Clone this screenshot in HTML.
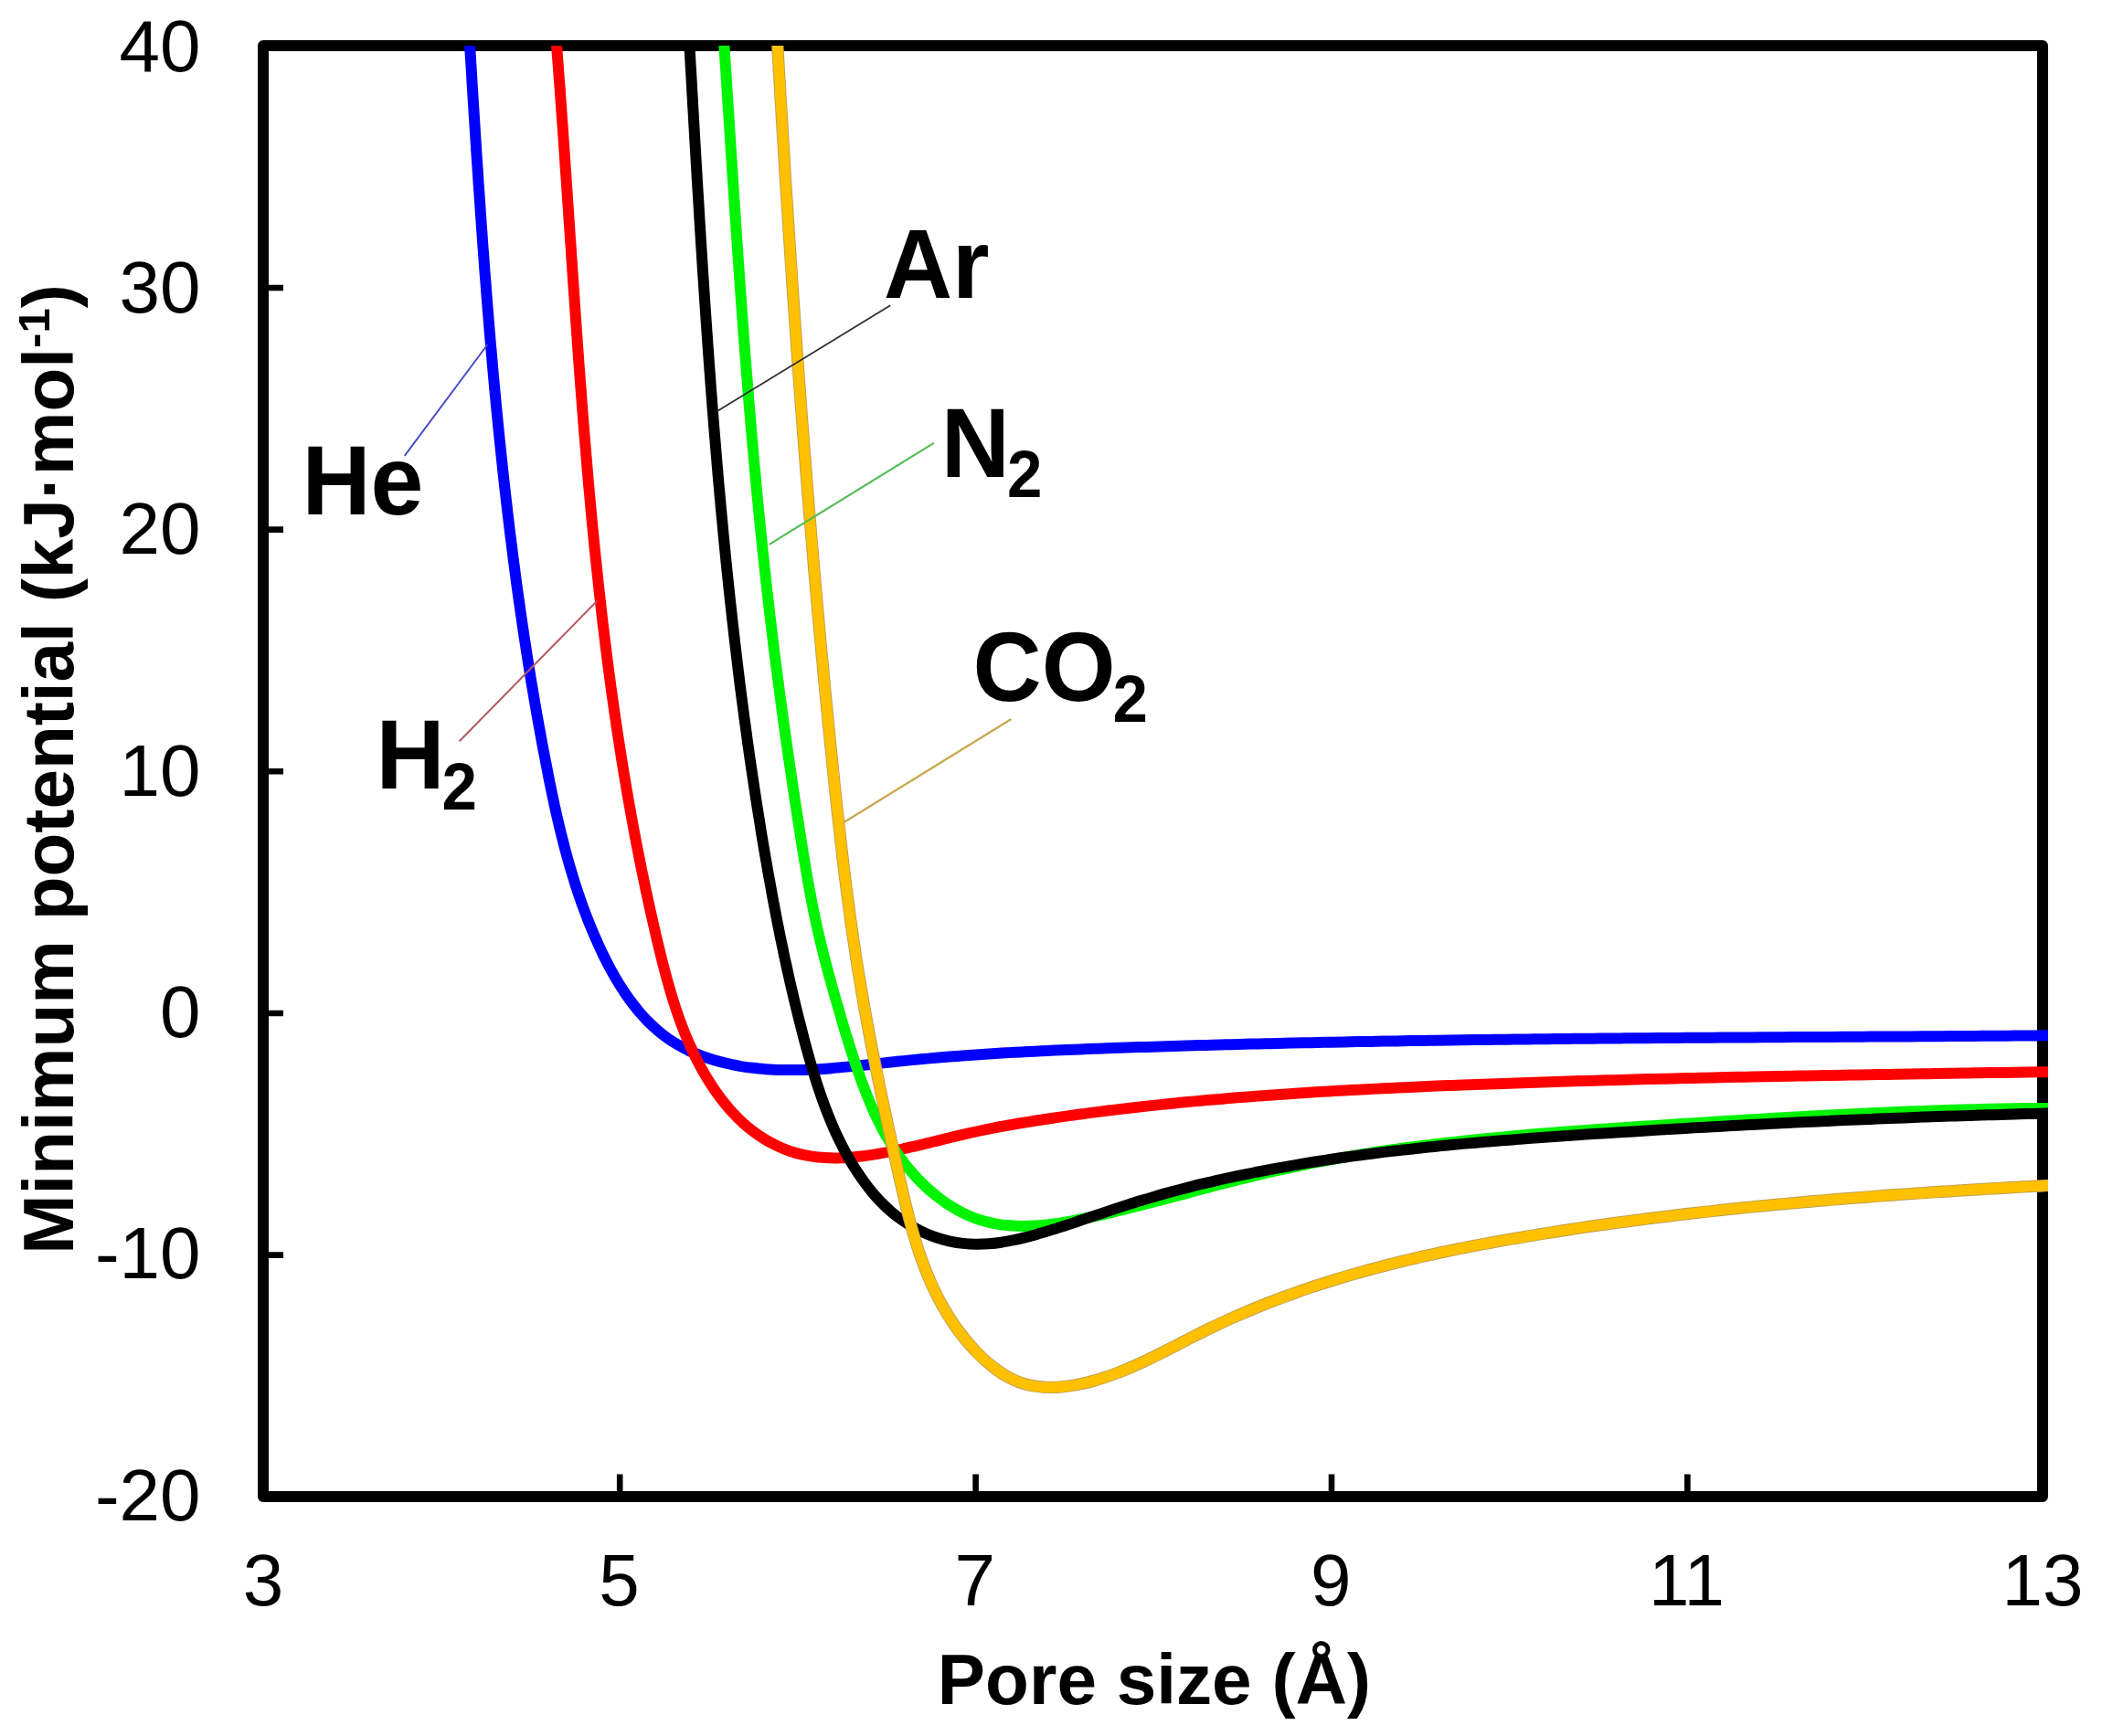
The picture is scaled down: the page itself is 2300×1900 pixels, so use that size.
<!DOCTYPE html>
<html lang="en">
<head>
<meta charset="utf-8">
<title>Minimum potential vs pore size</title>
<style>
html,body{margin:0;padding:0;background:#fff;}
body{width:2300px;height:1900px;overflow:hidden;}
svg{display:block;}
text{font-family:"Liberation Sans",sans-serif;fill:#000;}
.tick{font-size:80px;}
.title{font-size:78.3px;font-weight:bold;}
.lab{font-size:104px;font-weight:bold;}
.sub{font-size:69px;font-weight:bold;}
</style>
</head>
<body>
<svg width="2300" height="1900" viewBox="0 0 2300 1900">
<defs>
<clipPath id="plot"><rect x="268.0" y="50.0" width="1973.0" height="1608.0"/></clipPath>
<filter id="soft" x="-2%" y="-2%" width="104%" height="104%"><feGaussianBlur stdDeviation="0.75"/></filter>
</defs>
<rect x="0" y="0" width="2300" height="1900" fill="#fff"/>
<g filter="url(#soft)">
<rect x="288.0" y="50.0" width="1947.0" height="1588.0" fill="none" stroke="#000" stroke-width="12" stroke-linejoin="round"/>
<path d="M288.0 315.0H310.0 M288.0 579.6H310.0 M288.0 844.3H310.0 M288.0 1109.0H310.0 M288.0 1373.6H310.0 M678.2 1638.0V1613.5 M1067.6 1638.0V1613.5 M1457.0 1638.0V1613.5 M1846.4 1638.0V1613.5" stroke="#000" stroke-width="6.6" fill="none"/>
<g clip-path="url(#plot)" fill="none" stroke-linecap="butt" stroke-linejoin="round">
<path d="M511.8 11.4 C511.9 13.7 512.4 20.7 512.6 25.4 C512.9 30.1 513.2 34.8 513.5 39.5 C513.8 44.2 514.1 48.9 514.3 53.6 C514.6 58.3 514.9 63.1 515.2 67.8 C515.5 72.5 515.8 77.2 516.1 81.9 C516.3 86.7 516.6 91.4 516.9 96.1 C517.2 100.9 517.5 105.6 517.8 110.3 C518.1 115.1 518.4 119.8 518.7 124.6 C519.0 129.3 519.3 134.1 519.6 138.8 C519.9 143.6 520.2 148.3 520.5 153.1 C520.8 157.8 521.1 162.6 521.4 167.4 C521.7 172.1 522.0 176.9 522.4 181.7 C522.7 186.4 523.0 191.2 523.3 196.0 C523.6 200.8 523.9 205.5 524.3 210.3 C524.6 215.1 524.9 219.9 525.3 224.7 C525.6 229.5 525.9 234.2 526.3 239.0 C526.6 243.8 526.9 248.6 527.3 253.4 C527.6 258.2 528.0 263.0 528.3 267.8 C528.7 272.6 529.0 277.4 529.4 282.2 C529.7 287.0 530.1 291.8 530.4 296.6 C530.8 301.4 531.2 306.2 531.6 311.0 C531.9 315.8 532.3 320.6 532.7 325.4 C533.1 330.2 533.4 335.0 533.8 339.8 C534.2 344.6 534.6 349.4 535.0 354.2 C535.4 359.0 535.8 363.9 536.2 368.7 C536.6 373.5 537.0 378.3 537.5 383.1 C537.9 387.9 538.3 392.7 538.7 397.5 C539.1 402.3 539.6 407.1 540.0 412.0 C540.5 416.8 540.9 421.6 541.3 426.4 C541.8 431.2 542.2 436.0 542.7 440.8 C543.2 445.6 543.6 450.4 544.1 455.2 C544.6 460.1 545.0 464.9 545.5 469.7 C546.0 474.5 546.5 479.3 547.0 484.1 C547.5 488.9 548.0 493.7 548.5 498.5 C549.0 503.3 549.5 508.1 550.0 512.9 C550.5 517.7 551.1 522.5 551.6 527.3 C552.1 532.1 552.7 536.9 553.2 541.7 C553.8 546.5 554.3 551.3 554.9 556.1 C555.4 560.9 556.0 565.7 556.6 570.4 C557.1 575.2 557.7 580.0 558.3 584.8 C558.9 589.6 559.5 594.4 560.1 599.1 C560.7 603.9 561.3 608.7 561.9 613.5 C562.6 618.2 563.2 623.0 563.8 627.8 C564.4 632.6 565.1 637.3 565.7 642.1 C566.4 646.8 567.0 651.6 567.7 656.4 C568.4 661.1 569.1 665.9 569.7 670.6 C570.4 675.4 571.1 680.1 571.8 684.9 C572.5 689.6 573.2 694.4 573.9 699.1 C574.7 703.8 575.4 708.6 576.1 713.3 C576.9 718.0 577.6 722.8 578.3 727.5 C579.1 732.2 579.9 736.9 580.6 741.7 C581.4 746.4 582.2 751.1 583.0 755.8 C583.8 760.5 584.6 765.2 585.4 769.9 C586.2 774.6 587.0 779.3 587.8 784.0 C588.7 788.7 589.5 793.4 590.4 798.0 C591.2 802.7 592.1 807.4 592.9 812.1 C593.8 816.7 594.7 821.4 595.6 826.1 C596.5 830.7 597.4 835.4 598.3 840.0 C599.2 844.7 600.1 849.3 601.0 854.0 C602.0 858.6 602.9 863.3 603.9 867.9 C604.9 872.5 605.8 877.2 606.8 881.8 C607.9 886.4 608.9 891.0 609.9 895.6 C611.0 900.2 612.1 904.8 613.2 909.4 C614.3 914.0 615.5 918.6 616.7 923.2 C617.8 927.8 619.1 932.3 620.3 936.9 C621.6 941.5 622.9 946.1 624.2 950.6 C625.6 955.2 626.9 959.7 628.4 964.3 C629.8 968.8 631.3 973.3 632.8 977.9 C634.3 982.4 635.9 986.9 637.5 991.5 C639.2 996.0 640.9 1000.5 642.6 1005.0 C644.4 1009.5 646.2 1014.0 648.1 1018.5 C650.0 1023.0 651.9 1027.4 653.9 1031.9 C655.9 1036.4 658.0 1040.8 660.1 1045.3 C662.3 1049.7 664.5 1054.1 666.8 1058.4 C669.2 1062.8 671.5 1067.1 674.0 1071.3 C676.5 1075.5 679.1 1079.7 681.8 1083.7 C684.4 1087.8 687.2 1091.8 690.1 1095.7 C693.0 1099.5 695.9 1103.3 699.0 1107.0 C702.1 1110.6 705.3 1114.1 708.6 1117.5 C712.0 1120.9 715.4 1124.1 719.0 1127.2 C722.5 1130.3 726.2 1133.2 730.0 1136.0 C733.8 1138.7 737.8 1141.3 741.9 1143.6 C746.0 1146.0 750.2 1148.2 754.5 1150.2 C758.8 1152.2 763.2 1154.0 767.7 1155.7 C772.2 1157.4 776.8 1158.9 781.4 1160.3 C786.0 1161.7 790.7 1162.9 795.4 1163.9 C800.1 1165.0 804.9 1165.9 809.6 1166.8 C814.4 1167.6 819.1 1168.2 823.9 1168.8 C828.6 1169.4 833.3 1169.8 838.1 1170.2 C842.8 1170.5 847.6 1170.8 852.3 1170.9 C857.1 1171.1 861.9 1171.1 866.6 1171.1 C871.4 1171.1 876.1 1171.0 880.9 1170.9 C885.7 1170.7 890.4 1170.5 895.2 1170.2 C899.9 1169.9 904.7 1169.6 909.5 1169.2 C914.2 1168.8 919.0 1168.4 923.8 1167.9 C928.6 1167.5 933.3 1167.0 938.1 1166.5 C942.9 1166.0 947.7 1165.5 952.4 1165.0 C957.2 1164.4 962.0 1163.9 966.8 1163.4 C971.5 1162.9 976.3 1162.3 981.1 1161.8 C985.9 1161.3 990.7 1160.9 995.5 1160.4 C1000.2 1159.9 1005.0 1159.5 1009.8 1159.0 C1014.6 1158.6 1019.4 1158.2 1024.2 1157.8 C1029.0 1157.4 1033.8 1157.0 1038.6 1156.6 C1043.3 1156.2 1048.1 1155.8 1052.9 1155.5 C1057.7 1155.1 1062.5 1154.8 1067.3 1154.4 C1072.1 1154.1 1076.9 1153.8 1081.7 1153.5 C1086.5 1153.2 1091.3 1152.9 1096.1 1152.6 C1100.9 1152.3 1105.7 1152.0 1110.5 1151.8 C1115.3 1151.5 1120.1 1151.3 1124.9 1151.0 C1129.7 1150.8 1134.5 1150.5 1139.3 1150.3 C1144.1 1150.1 1148.9 1149.8 1153.7 1149.6 C1158.5 1149.4 1163.3 1149.2 1168.1 1149.0 C1172.9 1148.8 1177.7 1148.6 1182.5 1148.4 C1187.3 1148.2 1192.1 1148.0 1196.9 1147.8 C1201.7 1147.7 1206.5 1147.5 1211.3 1147.3 C1216.1 1147.1 1220.9 1147.0 1225.7 1146.8 C1230.5 1146.6 1235.3 1146.5 1240.1 1146.3 C1244.9 1146.2 1249.7 1146.0 1254.5 1145.9 C1259.3 1145.7 1264.1 1145.6 1268.9 1145.4 C1273.6 1145.3 1278.4 1145.1 1283.2 1145.0 C1288.0 1144.8 1292.8 1144.7 1297.6 1144.5 C1302.4 1144.4 1307.2 1144.3 1312.0 1144.1 C1316.8 1144.0 1321.6 1143.9 1326.4 1143.7 C1331.2 1143.6 1336.0 1143.5 1340.8 1143.3 C1345.6 1143.2 1350.4 1143.1 1355.2 1143.0 C1360.0 1142.8 1364.8 1142.7 1369.6 1142.6 C1374.4 1142.5 1379.2 1142.4 1384.0 1142.3 C1388.8 1142.1 1393.6 1142.0 1398.3 1141.9 C1403.1 1141.8 1407.9 1141.7 1412.7 1141.6 C1417.5 1141.5 1422.3 1141.4 1427.1 1141.3 C1431.9 1141.2 1436.7 1141.1 1441.5 1141.0 C1446.3 1140.9 1451.1 1140.8 1455.9 1140.7 C1460.7 1140.6 1465.5 1140.5 1470.3 1140.4 C1475.0 1140.3 1479.8 1140.2 1484.6 1140.1 C1489.4 1140.0 1494.2 1139.9 1499.0 1139.9 C1503.8 1139.8 1508.6 1139.7 1513.4 1139.6 C1518.2 1139.5 1523.0 1139.4 1527.8 1139.4 C1532.6 1139.3 1537.3 1139.2 1542.1 1139.1 C1546.9 1139.0 1551.7 1139.0 1556.5 1138.9 C1561.3 1138.8 1566.1 1138.8 1570.9 1138.7 C1575.7 1138.6 1580.5 1138.5 1585.3 1138.5 C1590.1 1138.4 1594.9 1138.3 1599.6 1138.3 C1604.4 1138.2 1609.2 1138.1 1614.0 1138.1 C1618.8 1138.0 1623.6 1138.0 1628.4 1137.9 C1633.2 1137.8 1638.0 1137.8 1642.8 1137.7 C1647.6 1137.7 1652.3 1137.6 1657.1 1137.5 C1661.9 1137.5 1666.7 1137.4 1671.5 1137.4 C1676.3 1137.3 1681.1 1137.3 1685.9 1137.2 C1690.7 1137.2 1695.5 1137.1 1700.3 1137.1 C1705.1 1137.0 1709.8 1137.0 1714.6 1136.9 C1719.4 1136.9 1724.2 1136.8 1729.0 1136.8 C1733.8 1136.7 1738.6 1136.7 1743.4 1136.7 C1748.2 1136.6 1753.0 1136.6 1757.8 1136.5 C1762.6 1136.5 1767.3 1136.4 1772.1 1136.4 C1776.9 1136.4 1781.7 1136.3 1786.5 1136.3 C1791.3 1136.2 1796.1 1136.2 1800.9 1136.2 C1805.7 1136.1 1810.5 1136.1 1815.3 1136.1 C1820.1 1136.0 1824.9 1136.0 1829.6 1136.0 C1834.4 1135.9 1839.2 1135.9 1844.0 1135.8 C1848.8 1135.8 1853.6 1135.8 1858.4 1135.7 C1863.2 1135.7 1868.0 1135.7 1872.8 1135.7 C1877.6 1135.6 1882.4 1135.6 1887.2 1135.6 C1892.0 1135.5 1896.8 1135.5 1901.5 1135.5 C1906.3 1135.4 1911.1 1135.4 1915.9 1135.4 C1920.7 1135.3 1925.5 1135.3 1930.3 1135.3 C1935.1 1135.3 1939.9 1135.2 1944.7 1135.2 C1949.5 1135.2 1954.3 1135.1 1959.1 1135.1 C1963.9 1135.1 1968.7 1135.1 1973.5 1135.0 C1978.3 1135.0 1983.1 1135.0 1987.9 1134.9 C1992.7 1134.9 1997.5 1134.9 2002.3 1134.9 C2007.1 1134.8 2011.9 1134.8 2016.6 1134.8 C2021.4 1134.8 2026.2 1134.7 2031.0 1134.7 C2035.8 1134.7 2040.6 1134.6 2045.4 1134.6 C2050.2 1134.6 2055.0 1134.6 2059.8 1134.5 C2064.6 1134.5 2069.4 1134.5 2074.2 1134.4 C2079.0 1134.4 2083.8 1134.4 2088.6 1134.4 C2093.4 1134.3 2098.2 1134.3 2103.0 1134.3 C2107.8 1134.2 2112.6 1134.2 2117.4 1134.2 C2122.2 1134.2 2127.0 1134.1 2131.8 1134.1 C2136.6 1134.1 2141.4 1134.0 2146.2 1134.0 C2151.0 1134.0 2155.9 1133.9 2160.7 1133.9 C2165.5 1133.9 2170.3 1133.8 2175.1 1133.8 C2179.9 1133.8 2184.7 1133.7 2189.5 1133.7 C2194.3 1133.7 2199.1 1133.6 2203.9 1133.6 C2208.7 1133.6 2213.5 1133.5 2218.3 1133.5 C2223.1 1133.5 2227.9 1133.4 2232.7 1133.4 C2237.5 1133.4 2244.8 1133.3 2247.2 1133.3" stroke="#0000ff" stroke-width="12"/>
<path d="M605.9 10.0 C606.1 12.4 606.6 19.5 607.0 24.3 C607.4 29.1 607.8 33.9 608.2 38.7 C608.6 43.4 608.9 48.2 609.3 53.0 C609.7 57.8 610.0 62.6 610.4 67.3 C610.8 72.1 611.1 76.9 611.5 81.7 C611.8 86.5 612.2 91.3 612.6 96.0 C612.9 100.8 613.3 105.6 613.6 110.4 C614.0 115.2 614.3 120.0 614.6 124.7 C615.0 129.5 615.3 134.3 615.7 139.1 C616.0 143.9 616.3 148.6 616.7 153.4 C617.0 158.2 617.3 163.0 617.7 167.8 C618.0 172.6 618.3 177.3 618.6 182.1 C619.0 186.9 619.3 191.7 619.6 196.5 C619.9 201.3 620.3 206.0 620.6 210.8 C620.9 215.6 621.2 220.4 621.6 225.2 C621.9 229.9 622.2 234.7 622.5 239.5 C622.9 244.3 623.2 249.1 623.5 253.8 C623.8 258.6 624.1 263.4 624.5 268.2 C624.8 273.0 625.1 277.8 625.4 282.5 C625.8 287.3 626.1 292.1 626.4 296.9 C626.7 301.6 627.1 306.4 627.4 311.2 C627.7 316.0 628.0 320.8 628.4 325.5 C628.7 330.3 629.0 335.1 629.4 339.9 C629.7 344.7 630.0 349.4 630.4 354.2 C630.7 359.0 631.0 363.8 631.4 368.5 C631.7 373.3 632.0 378.1 632.4 382.9 C632.7 387.6 633.1 392.4 633.4 397.2 C633.8 402.0 634.1 406.7 634.5 411.5 C634.8 416.3 635.2 421.1 635.6 425.8 C635.9 430.6 636.3 435.4 636.7 440.2 C637.0 444.9 637.4 449.7 637.8 454.5 C638.1 459.2 638.5 464.0 638.9 468.8 C639.3 473.5 639.7 478.3 640.1 483.1 C640.5 487.9 640.9 492.6 641.3 497.4 C641.7 502.2 642.1 506.9 642.5 511.7 C642.9 516.5 643.3 521.2 643.7 526.0 C644.1 530.8 644.6 535.5 645.0 540.3 C645.4 545.0 645.9 549.8 646.3 554.6 C646.7 559.3 647.2 564.1 647.6 568.9 C648.1 573.6 648.5 578.4 649.0 583.1 C649.5 587.9 649.9 592.7 650.4 597.4 C650.9 602.2 651.4 606.9 651.9 611.7 C652.4 616.4 652.9 621.2 653.4 626.0 C653.9 630.7 654.4 635.5 654.9 640.2 C655.4 645.0 655.9 649.7 656.5 654.5 C657.0 659.2 657.5 664.0 658.1 668.7 C658.6 673.5 659.2 678.2 659.7 683.0 C660.3 687.7 660.9 692.5 661.5 697.2 C662.0 702.0 662.6 706.7 663.2 711.5 C663.8 716.2 664.4 721.0 665.0 725.7 C665.6 730.4 666.3 735.2 666.9 739.9 C667.5 744.7 668.2 749.4 668.8 754.2 C669.5 758.9 670.1 763.6 670.8 768.4 C671.5 773.1 672.1 777.8 672.8 782.6 C673.5 787.3 674.2 792.1 674.9 796.8 C675.6 801.5 676.3 806.3 677.1 811.0 C677.8 815.7 678.5 820.4 679.3 825.2 C680.0 829.9 680.8 834.6 681.6 839.4 C682.3 844.1 683.1 848.8 683.9 853.5 C684.7 858.3 685.5 863.0 686.3 867.7 C687.1 872.4 687.9 877.2 688.8 881.9 C689.6 886.6 690.5 891.3 691.3 896.0 C692.2 900.7 693.1 905.5 693.9 910.2 C694.8 914.9 695.7 919.6 696.6 924.3 C697.5 929.0 698.5 933.8 699.4 938.5 C700.3 943.2 701.3 947.9 702.2 952.6 C703.2 957.3 704.2 962.0 705.2 966.7 C706.1 971.4 707.1 976.1 708.2 980.8 C709.2 985.5 710.2 990.2 711.2 994.9 C712.3 999.6 713.3 1004.3 714.4 1009.0 C715.5 1013.7 716.6 1018.4 717.6 1023.1 C718.7 1027.8 719.9 1032.5 721.0 1037.2 C722.1 1041.9 723.3 1046.6 724.4 1051.2 C725.6 1055.9 726.8 1060.6 728.1 1065.2 C729.3 1069.9 730.6 1074.5 731.9 1079.2 C733.2 1083.8 734.6 1088.4 736.0 1093.0 C737.4 1097.5 738.9 1102.1 740.4 1106.6 C742.0 1111.2 743.5 1115.7 745.2 1120.1 C746.9 1124.6 748.6 1129.1 750.4 1133.5 C752.2 1137.9 754.1 1142.2 756.1 1146.5 C758.0 1150.9 760.1 1155.2 762.2 1159.4 C764.4 1163.6 766.6 1167.8 769.0 1172.0 C771.3 1176.1 773.7 1180.2 776.3 1184.3 C778.8 1188.3 781.5 1192.3 784.3 1196.2 C787.1 1200.1 789.9 1203.9 793.0 1207.6 C796.0 1211.4 799.1 1215.0 802.4 1218.5 C805.6 1222.0 809.0 1225.4 812.5 1228.6 C816.0 1231.8 819.7 1234.9 823.5 1237.8 C827.2 1240.7 831.2 1243.4 835.2 1245.9 C839.3 1248.5 843.5 1250.8 847.8 1252.9 C852.0 1255.0 856.5 1257.0 860.9 1258.6 C865.4 1260.3 869.9 1261.7 874.4 1262.9 C879.0 1264.0 883.6 1264.9 888.2 1265.6 C892.8 1266.3 897.5 1266.8 902.2 1267.1 C906.9 1267.4 911.6 1267.5 916.3 1267.4 C921.0 1267.3 925.8 1267.1 930.5 1266.7 C935.3 1266.4 940.1 1265.9 944.8 1265.3 C949.6 1264.7 954.4 1263.9 959.1 1263.1 C963.9 1262.3 968.6 1261.5 973.4 1260.5 C978.2 1259.6 982.9 1258.6 987.7 1257.5 C992.4 1256.5 997.1 1255.4 1001.9 1254.3 C1006.6 1253.2 1011.4 1252.0 1016.1 1250.9 C1020.8 1249.7 1025.5 1248.5 1030.3 1247.4 C1035.0 1246.2 1039.7 1245.0 1044.4 1243.9 C1049.2 1242.8 1053.9 1241.7 1058.6 1240.6 C1063.3 1239.5 1068.0 1238.5 1072.7 1237.5 C1077.4 1236.5 1082.2 1235.5 1086.9 1234.6 C1091.6 1233.7 1096.3 1232.8 1101.0 1232.0 C1105.7 1231.1 1110.4 1230.3 1115.1 1229.5 C1119.8 1228.7 1124.6 1227.9 1129.3 1227.2 C1134.0 1226.4 1138.7 1225.7 1143.4 1225.0 C1148.1 1224.3 1152.8 1223.6 1157.5 1222.9 C1162.3 1222.2 1167.0 1221.5 1171.7 1220.9 C1176.4 1220.2 1181.1 1219.6 1185.9 1219.0 C1190.6 1218.3 1195.3 1217.7 1200.0 1217.1 C1204.8 1216.5 1209.5 1215.9 1214.2 1215.3 C1219.0 1214.8 1223.7 1214.2 1228.4 1213.6 C1233.2 1213.1 1237.9 1212.5 1242.6 1212.0 C1247.4 1211.5 1252.1 1210.9 1256.8 1210.4 C1261.6 1209.9 1266.3 1209.4 1271.1 1208.9 C1275.8 1208.4 1280.6 1207.9 1285.3 1207.5 C1290.1 1207.0 1294.8 1206.5 1299.6 1206.1 C1304.3 1205.6 1309.1 1205.2 1313.8 1204.7 C1318.6 1204.3 1323.3 1203.9 1328.1 1203.5 C1332.8 1203.1 1337.6 1202.7 1342.3 1202.3 C1347.1 1201.9 1351.9 1201.5 1356.6 1201.1 C1361.4 1200.7 1366.1 1200.3 1370.9 1200.0 C1375.7 1199.6 1380.4 1199.3 1385.2 1198.9 C1390.0 1198.6 1394.7 1198.2 1399.5 1197.9 C1404.3 1197.6 1409.0 1197.2 1413.8 1196.9 C1418.6 1196.6 1423.4 1196.3 1428.1 1196.0 C1432.9 1195.7 1437.7 1195.4 1442.5 1195.1 C1447.2 1194.8 1452.0 1194.5 1456.8 1194.3 C1461.6 1194.0 1466.3 1193.7 1471.1 1193.4 C1475.9 1193.2 1480.7 1192.9 1485.5 1192.7 C1490.2 1192.4 1495.0 1192.2 1499.8 1191.9 C1504.6 1191.7 1509.4 1191.4 1514.1 1191.2 C1518.9 1191.0 1523.7 1190.8 1528.5 1190.5 C1533.3 1190.3 1538.1 1190.1 1542.9 1189.9 C1547.6 1189.7 1552.4 1189.4 1557.2 1189.2 C1562.0 1189.0 1566.8 1188.8 1571.6 1188.6 C1576.4 1188.4 1581.2 1188.2 1586.0 1188.0 C1590.8 1187.9 1595.5 1187.7 1600.3 1187.5 C1605.1 1187.3 1609.9 1187.1 1614.7 1186.9 C1619.5 1186.7 1624.3 1186.6 1629.1 1186.4 C1633.9 1186.2 1638.7 1186.0 1643.5 1185.9 C1648.3 1185.7 1653.1 1185.5 1657.9 1185.4 C1662.7 1185.2 1667.5 1185.1 1672.3 1184.9 C1677.1 1184.7 1681.9 1184.6 1686.7 1184.4 C1691.5 1184.3 1696.2 1184.1 1701.0 1184.0 C1705.8 1183.8 1710.6 1183.7 1715.4 1183.5 C1720.2 1183.4 1725.0 1183.2 1729.8 1183.1 C1734.6 1182.9 1739.4 1182.8 1744.2 1182.7 C1749.0 1182.5 1753.8 1182.4 1758.6 1182.3 C1763.4 1182.1 1768.2 1182.0 1773.0 1181.9 C1777.8 1181.7 1782.6 1181.6 1787.4 1181.5 C1792.2 1181.4 1797.0 1181.2 1801.8 1181.1 C1806.6 1181.0 1811.4 1180.9 1816.2 1180.8 C1821.0 1180.6 1825.8 1180.5 1830.6 1180.4 C1835.4 1180.3 1840.2 1180.2 1845.0 1180.1 C1849.8 1180.0 1854.6 1179.9 1859.4 1179.7 C1864.2 1179.6 1869.0 1179.5 1873.8 1179.4 C1878.6 1179.3 1883.4 1179.2 1888.2 1179.1 C1893.0 1179.0 1897.8 1178.9 1902.6 1178.8 C1907.4 1178.7 1912.2 1178.6 1917.0 1178.5 C1921.7 1178.4 1926.5 1178.3 1931.3 1178.2 C1936.1 1178.1 1940.9 1178.0 1945.7 1178.0 C1950.5 1177.9 1955.3 1177.8 1960.1 1177.7 C1964.9 1177.6 1969.7 1177.5 1974.5 1177.4 C1979.3 1177.3 1984.0 1177.2 1988.8 1177.2 C1993.6 1177.1 1998.4 1177.0 2003.2 1176.9 C2008.0 1176.8 2012.8 1176.7 2017.6 1176.7 C2022.4 1176.6 2027.1 1176.5 2031.9 1176.4 C2036.7 1176.3 2041.5 1176.2 2046.3 1176.2 C2051.1 1176.1 2055.8 1176.0 2060.6 1175.9 C2065.4 1175.9 2070.2 1175.8 2075.0 1175.7 C2079.7 1175.6 2084.5 1175.5 2089.3 1175.5 C2094.1 1175.4 2098.9 1175.3 2103.6 1175.2 C2108.4 1175.2 2113.2 1175.1 2118.0 1175.0 C2122.7 1174.9 2127.5 1174.9 2132.3 1174.8 C2137.0 1174.7 2141.8 1174.6 2146.6 1174.6 C2151.4 1174.5 2156.1 1174.4 2160.9 1174.3 C2165.7 1174.3 2170.4 1174.2 2175.2 1174.1 C2180.0 1174.1 2184.7 1174.0 2189.5 1173.9 C2194.2 1173.8 2199.0 1173.8 2203.8 1173.7 C2208.5 1173.6 2213.3 1173.5 2218.0 1173.5 C2222.8 1173.4 2227.6 1173.3 2232.3 1173.2 C2237.1 1173.2 2244.2 1173.1 2246.6 1173.0" stroke="#ff0000" stroke-width="12"/>
<path d="M789.8 10.5 C790.0 12.9 790.4 20.0 790.7 24.8 C791.1 29.5 791.4 34.3 791.7 39.1 C792.0 43.8 792.3 48.6 792.6 53.4 C792.9 58.1 793.2 62.9 793.6 67.7 C793.9 72.4 794.2 77.2 794.5 82.0 C794.8 86.8 795.1 91.5 795.4 96.3 C795.7 101.1 796.0 105.9 796.3 110.6 C796.6 115.4 797.0 120.2 797.3 125.0 C797.6 129.8 797.9 134.5 798.2 139.3 C798.5 144.1 798.8 148.9 799.1 153.7 C799.4 158.4 799.7 163.2 800.0 168.0 C800.4 172.8 800.7 177.6 801.0 182.4 C801.3 187.2 801.6 192.0 801.9 196.7 C802.2 201.5 802.6 206.3 802.9 211.1 C803.2 215.9 803.5 220.7 803.8 225.5 C804.1 230.3 804.5 235.1 804.8 239.9 C805.1 244.7 805.4 249.5 805.7 254.3 C806.1 259.0 806.4 263.8 806.7 268.6 C807.1 273.4 807.4 278.2 807.7 283.0 C808.1 287.8 808.4 292.6 808.7 297.4 C809.1 302.2 809.4 307.0 809.7 311.8 C810.1 316.6 810.4 321.4 810.8 326.2 C811.1 331.0 811.5 335.8 811.8 340.6 C812.2 345.4 812.5 350.2 812.9 355.0 C813.2 359.8 813.6 364.6 813.9 369.4 C814.3 374.2 814.7 379.0 815.0 383.8 C815.4 388.6 815.8 393.4 816.2 398.2 C816.5 403.0 816.9 407.8 817.3 412.6 C817.7 417.4 818.1 422.2 818.4 427.0 C818.8 431.8 819.2 436.6 819.6 441.4 C820.0 446.2 820.4 451.0 820.8 455.8 C821.2 460.6 821.6 465.4 822.0 470.2 C822.4 475.0 822.9 479.8 823.3 484.6 C823.7 489.4 824.1 494.2 824.6 499.0 C825.0 503.7 825.4 508.5 825.9 513.3 C826.3 518.1 826.7 522.9 827.2 527.7 C827.6 532.5 828.1 537.3 828.5 542.1 C829.0 546.9 829.5 551.7 829.9 556.5 C830.4 561.3 830.9 566.1 831.4 570.8 C831.8 575.6 832.3 580.4 832.8 585.2 C833.3 590.0 833.8 594.8 834.3 599.6 C834.8 604.4 835.3 609.1 835.8 613.9 C836.3 618.7 836.8 623.5 837.4 628.3 C837.9 633.1 838.4 637.8 838.9 642.6 C839.5 647.4 840.0 652.2 840.6 657.0 C841.1 661.7 841.7 666.5 842.2 671.3 C842.8 676.1 843.4 680.8 843.9 685.6 C844.5 690.4 845.1 695.2 845.7 699.9 C846.2 704.7 846.8 709.5 847.4 714.2 C848.0 719.0 848.6 723.8 849.2 728.5 C849.8 733.3 850.5 738.1 851.1 742.8 C851.7 747.6 852.3 752.3 852.9 757.1 C853.6 761.9 854.2 766.6 854.9 771.4 C855.5 776.1 856.1 780.9 856.8 785.6 C857.4 790.4 858.1 795.1 858.8 799.9 C859.4 804.6 860.1 809.4 860.8 814.1 C861.4 818.9 862.1 823.6 862.8 828.4 C863.5 833.1 864.2 837.8 864.9 842.6 C865.6 847.3 866.3 852.1 867.0 856.8 C867.7 861.5 868.4 866.3 869.1 871.0 C869.8 875.7 870.5 880.5 871.3 885.2 C872.0 889.9 872.7 894.6 873.5 899.4 C874.2 904.1 874.9 908.8 875.7 913.5 C876.4 918.2 877.2 922.9 877.9 927.7 C878.7 932.4 879.4 937.1 880.2 941.8 C881.0 946.5 881.8 951.2 882.6 955.9 C883.4 960.6 884.2 965.3 885.1 970.0 C886.0 974.7 886.8 979.4 887.7 984.1 C888.6 988.8 889.5 993.5 890.5 998.2 C891.5 1002.9 892.4 1007.6 893.5 1012.3 C894.5 1017.0 895.6 1021.6 896.7 1026.3 C897.8 1031.0 898.9 1035.7 900.1 1040.4 C901.2 1045.1 902.4 1049.7 903.7 1054.4 C904.9 1059.1 906.1 1063.8 907.4 1068.4 C908.7 1073.1 910.0 1077.8 911.3 1082.5 C912.6 1087.1 913.9 1091.8 915.3 1096.5 C916.6 1101.1 918.0 1105.8 919.3 1110.4 C920.7 1115.1 922.0 1119.8 923.4 1124.4 C924.8 1129.1 926.2 1133.7 927.7 1138.3 C929.1 1142.9 930.5 1147.5 932.0 1152.1 C933.5 1156.7 935.0 1161.3 936.6 1165.8 C938.1 1170.4 939.7 1174.9 941.3 1179.4 C942.9 1183.9 944.6 1188.4 946.3 1192.8 C948.0 1197.3 949.8 1201.7 951.6 1206.0 C953.5 1210.4 955.3 1214.8 957.3 1219.1 C959.3 1223.3 961.4 1227.6 963.5 1231.8 C965.7 1236.0 967.9 1240.2 970.3 1244.3 C972.7 1248.4 975.2 1252.5 977.8 1256.5 C980.4 1260.5 983.1 1264.5 986.0 1268.3 C988.9 1272.2 991.9 1276.1 995.0 1279.8 C998.2 1283.5 1001.4 1287.2 1004.8 1290.7 C1008.2 1294.3 1011.7 1297.7 1015.3 1301.0 C1019.0 1304.3 1022.7 1307.4 1026.5 1310.4 C1030.3 1313.3 1034.3 1316.2 1038.3 1318.8 C1042.3 1321.4 1046.5 1323.8 1050.7 1326.0 C1054.9 1328.3 1059.2 1330.3 1063.5 1332.0 C1067.9 1333.8 1072.4 1335.3 1076.9 1336.5 C1081.4 1337.8 1086.0 1338.8 1090.6 1339.6 C1095.2 1340.4 1099.9 1340.9 1104.6 1341.3 C1109.3 1341.7 1114.1 1341.9 1118.9 1341.9 C1123.6 1341.9 1128.4 1341.7 1133.2 1341.4 C1138.0 1341.1 1142.7 1340.7 1147.5 1340.1 C1152.3 1339.6 1157.1 1338.9 1161.9 1338.2 C1166.6 1337.4 1171.4 1336.6 1176.2 1335.7 C1181.0 1334.8 1185.7 1333.8 1190.5 1332.8 C1195.2 1331.8 1200.0 1330.8 1204.7 1329.7 C1209.4 1328.7 1214.2 1327.6 1218.9 1326.4 C1223.6 1325.3 1228.3 1324.2 1233.0 1323.0 C1237.7 1321.9 1242.4 1320.7 1247.1 1319.5 C1251.8 1318.3 1256.5 1317.1 1261.2 1315.8 C1265.8 1314.6 1270.5 1313.4 1275.2 1312.1 C1279.9 1310.9 1284.5 1309.6 1289.2 1308.4 C1293.8 1307.2 1298.5 1305.9 1303.2 1304.7 C1307.8 1303.4 1312.5 1302.2 1317.1 1300.9 C1321.8 1299.7 1326.4 1298.5 1331.1 1297.3 C1335.7 1296.1 1340.4 1294.9 1345.0 1293.7 C1349.7 1292.5 1354.3 1291.3 1359.0 1290.2 C1363.6 1289.0 1368.3 1287.9 1373.0 1286.8 C1377.6 1285.7 1382.3 1284.6 1386.9 1283.5 C1391.6 1282.4 1396.3 1281.4 1400.9 1280.4 C1405.6 1279.3 1410.3 1278.3 1415.0 1277.3 C1419.6 1276.4 1424.3 1275.4 1429.0 1274.5 C1433.7 1273.5 1438.4 1272.6 1443.1 1271.7 C1447.8 1270.8 1452.5 1269.9 1457.2 1269.1 C1461.9 1268.2 1466.6 1267.4 1471.3 1266.6 C1476.0 1265.8 1480.7 1265.0 1485.4 1264.2 C1490.2 1263.4 1494.9 1262.7 1499.6 1262.0 C1504.3 1261.2 1509.1 1260.5 1513.8 1259.8 C1518.5 1259.1 1523.2 1258.4 1528.0 1257.8 C1532.7 1257.1 1537.5 1256.4 1542.2 1255.8 C1546.9 1255.2 1551.7 1254.6 1556.4 1254.0 C1561.2 1253.4 1565.9 1252.8 1570.7 1252.2 C1575.4 1251.6 1580.2 1251.1 1585.0 1250.5 C1589.7 1250.0 1594.5 1249.5 1599.2 1248.9 C1604.0 1248.4 1608.8 1247.9 1613.5 1247.4 C1618.3 1246.9 1623.1 1246.5 1627.9 1246.0 C1632.6 1245.5 1637.4 1245.1 1642.2 1244.6 C1647.0 1244.2 1651.7 1243.7 1656.5 1243.3 C1661.3 1242.9 1666.1 1242.4 1670.9 1242.0 C1675.7 1241.6 1680.5 1241.2 1685.2 1240.8 C1690.0 1240.4 1694.8 1240.1 1699.6 1239.7 C1704.4 1239.3 1709.2 1238.9 1714.0 1238.6 C1718.8 1238.2 1723.6 1237.9 1728.4 1237.5 C1733.2 1237.2 1738.0 1236.8 1742.8 1236.5 C1747.6 1236.1 1752.4 1235.8 1757.2 1235.5 C1762.0 1235.1 1766.8 1234.8 1771.6 1234.5 C1776.4 1234.2 1781.2 1233.8 1786.0 1233.5 C1790.9 1233.2 1795.7 1232.9 1800.5 1232.6 C1805.3 1232.3 1810.1 1232.0 1814.9 1231.7 C1819.7 1231.4 1824.5 1231.0 1829.3 1230.7 C1834.2 1230.4 1839.0 1230.1 1843.8 1229.8 C1848.6 1229.5 1853.4 1229.2 1858.2 1228.9 C1863.0 1228.6 1867.9 1228.3 1872.7 1228.0 C1877.5 1227.7 1882.3 1227.4 1887.1 1227.1 C1891.9 1226.8 1896.7 1226.5 1901.6 1226.2 C1906.4 1225.9 1911.2 1225.6 1916.0 1225.3 C1920.8 1225.0 1925.6 1224.8 1930.4 1224.5 C1935.3 1224.2 1940.1 1223.9 1944.9 1223.6 C1949.7 1223.4 1954.5 1223.1 1959.3 1222.8 C1964.1 1222.5 1968.9 1222.3 1973.8 1222.0 C1978.6 1221.7 1983.4 1221.5 1988.2 1221.2 C1993.0 1221.0 1997.8 1220.7 2002.6 1220.5 C2007.4 1220.2 2012.2 1220.0 2017.0 1219.7 C2021.8 1219.5 2026.6 1219.3 2031.4 1219.0 C2036.2 1218.8 2041.0 1218.6 2045.8 1218.3 C2050.6 1218.1 2055.4 1217.9 2060.2 1217.7 C2065.0 1217.5 2069.8 1217.3 2074.6 1217.1 C2079.4 1216.9 2084.2 1216.7 2089.0 1216.5 C2093.8 1216.3 2098.6 1216.1 2103.4 1216.0 C2108.2 1215.8 2112.9 1215.6 2117.7 1215.4 C2122.5 1215.3 2127.3 1215.1 2132.1 1215.0 C2136.9 1214.8 2141.6 1214.7 2146.4 1214.5 C2151.2 1214.4 2156.0 1214.3 2160.7 1214.2 C2165.5 1214.0 2170.3 1213.9 2175.0 1213.8 C2179.8 1213.7 2184.6 1213.6 2189.3 1213.5 C2194.1 1213.4 2198.9 1213.4 2203.6 1213.3 C2208.4 1213.2 2213.1 1213.1 2217.9 1213.1 C2222.6 1213.0 2227.4 1213.0 2232.1 1212.9 C2236.9 1212.9 2244.0 1212.9 2246.3 1212.9" stroke="#00f400" stroke-width="12"/>
<path d="M752.2 10.6 C752.3 13.0 752.8 20.1 753.0 24.8 C753.3 29.6 753.6 34.3 753.8 39.0 C754.1 43.8 754.4 48.5 754.6 53.3 C754.9 58.0 755.2 62.8 755.4 67.6 C755.7 72.3 756.0 77.1 756.3 81.8 C756.5 86.6 756.8 91.3 757.1 96.1 C757.3 100.9 757.6 105.6 757.9 110.4 C758.1 115.2 758.4 119.9 758.7 124.7 C759.0 129.5 759.2 134.2 759.5 139.0 C759.8 143.8 760.1 148.5 760.3 153.3 C760.6 158.1 760.9 162.8 761.2 167.6 C761.4 172.4 761.7 177.2 762.0 181.9 C762.3 186.7 762.6 191.5 762.8 196.3 C763.1 201.1 763.4 205.8 763.7 210.6 C764.0 215.4 764.3 220.2 764.6 225.0 C764.9 229.7 765.1 234.5 765.4 239.3 C765.7 244.1 766.0 248.9 766.3 253.7 C766.6 258.5 766.9 263.2 767.2 268.0 C767.5 272.8 767.8 277.6 768.1 282.4 C768.4 287.2 768.7 292.0 769.0 296.8 C769.3 301.5 769.7 306.3 770.0 311.1 C770.3 315.9 770.6 320.7 770.9 325.5 C771.2 330.3 771.6 335.1 771.9 339.9 C772.2 344.7 772.5 349.5 772.9 354.3 C773.2 359.0 773.5 363.8 773.9 368.6 C774.2 373.4 774.5 378.2 774.9 383.0 C775.2 387.8 775.6 392.6 775.9 397.4 C776.3 402.2 776.6 407.0 777.0 411.8 C777.3 416.6 777.7 421.4 778.0 426.2 C778.4 430.9 778.8 435.7 779.1 440.5 C779.5 445.3 779.9 450.1 780.3 454.9 C780.6 459.7 781.0 464.5 781.4 469.3 C781.8 474.1 782.2 478.9 782.6 483.7 C783.0 488.4 783.4 493.2 783.8 498.0 C784.2 502.8 784.6 507.6 785.0 512.4 C785.4 517.2 785.8 522.0 786.2 526.8 C786.7 531.6 787.1 536.3 787.5 541.1 C788.0 545.9 788.4 550.7 788.8 555.5 C789.3 560.3 789.7 565.1 790.2 569.8 C790.6 574.6 791.1 579.4 791.5 584.2 C792.0 589.0 792.4 593.7 792.9 598.5 C793.4 603.3 793.9 608.1 794.3 612.9 C794.8 617.6 795.3 622.4 795.8 627.2 C796.3 632.0 796.8 636.7 797.3 641.5 C797.8 646.3 798.3 651.1 798.8 655.8 C799.3 660.6 799.9 665.4 800.4 670.1 C800.9 674.9 801.4 679.7 802.0 684.4 C802.5 689.2 803.1 694.0 803.6 698.7 C804.2 703.5 804.7 708.3 805.3 713.0 C805.9 717.8 806.4 722.5 807.0 727.3 C807.6 732.1 808.2 736.8 808.7 741.6 C809.3 746.3 809.9 751.1 810.5 755.8 C811.1 760.6 811.8 765.3 812.4 770.1 C813.0 774.8 813.6 779.6 814.2 784.3 C814.9 789.0 815.5 793.8 816.2 798.5 C816.8 803.3 817.5 808.0 818.1 812.7 C818.8 817.5 819.5 822.2 820.1 826.9 C820.8 831.7 821.5 836.4 822.2 841.1 C822.9 845.8 823.6 850.6 824.3 855.3 C825.0 860.0 825.7 864.7 826.4 869.4 C827.1 874.2 827.9 878.9 828.6 883.6 C829.4 888.3 830.1 893.0 830.9 897.7 C831.6 902.4 832.4 907.1 833.1 911.8 C833.9 916.5 834.7 921.2 835.5 925.9 C836.3 930.6 837.1 935.3 837.9 940.0 C838.7 944.7 839.5 949.4 840.3 954.1 C841.2 958.8 842.0 963.5 842.9 968.2 C843.7 972.8 844.6 977.5 845.4 982.2 C846.3 986.9 847.2 991.6 848.1 996.3 C849.0 1000.9 849.9 1005.6 850.8 1010.3 C851.8 1015.0 852.7 1019.7 853.6 1024.4 C854.6 1029.0 855.6 1033.7 856.6 1038.4 C857.5 1043.1 858.5 1047.8 859.5 1052.5 C860.6 1057.1 861.6 1061.8 862.6 1066.5 C863.7 1071.2 864.7 1075.9 865.8 1080.6 C866.9 1085.3 868.0 1089.9 869.1 1094.6 C870.2 1099.3 871.4 1104.0 872.5 1108.7 C873.7 1113.4 874.9 1118.1 876.1 1122.8 C877.3 1127.5 878.5 1132.2 879.7 1136.9 C880.9 1141.6 882.2 1146.3 883.5 1151.0 C884.8 1155.7 886.1 1160.4 887.5 1165.1 C888.8 1169.7 890.2 1174.4 891.7 1179.0 C893.1 1183.7 894.6 1188.3 896.2 1192.9 C897.7 1197.5 899.3 1202.1 901.0 1206.6 C902.6 1211.1 904.3 1215.6 906.1 1220.1 C907.9 1224.6 909.7 1229.0 911.6 1233.4 C913.6 1237.8 915.5 1242.1 917.6 1246.4 C919.7 1250.7 921.8 1254.9 924.0 1259.1 C926.3 1263.3 928.6 1267.4 931.0 1271.5 C933.4 1275.5 935.9 1279.5 938.5 1283.4 C941.1 1287.4 943.8 1291.2 946.6 1295.0 C949.4 1298.8 952.3 1302.5 955.3 1306.1 C958.4 1309.7 961.5 1313.2 964.9 1316.5 C968.2 1319.9 971.6 1323.1 975.2 1326.2 C978.8 1329.3 982.6 1332.2 986.5 1335.0 C990.4 1337.8 994.5 1340.4 998.8 1342.8 C1003.0 1345.2 1007.4 1347.4 1011.9 1349.4 C1016.4 1351.4 1021.0 1353.2 1025.6 1354.7 C1030.2 1356.2 1034.9 1357.5 1039.6 1358.6 C1044.3 1359.6 1049.0 1360.4 1053.7 1360.9 C1058.4 1361.4 1063.0 1361.7 1067.7 1361.7 C1072.4 1361.8 1077.0 1361.6 1081.7 1361.3 C1086.4 1360.9 1091.0 1360.4 1095.7 1359.7 C1100.3 1359.0 1105.0 1358.1 1109.6 1357.2 C1114.2 1356.2 1118.9 1355.1 1123.5 1353.9 C1128.1 1352.8 1132.8 1351.4 1137.4 1350.1 C1142.0 1348.8 1146.7 1347.4 1151.3 1345.9 C1155.9 1344.5 1160.5 1343.0 1165.2 1341.5 C1169.8 1340.0 1174.4 1338.5 1179.0 1336.9 C1183.6 1335.4 1188.3 1333.8 1192.9 1332.2 C1197.5 1330.7 1202.1 1329.1 1206.7 1327.6 C1211.3 1326.0 1216.0 1324.4 1220.6 1322.9 C1225.2 1321.4 1229.8 1319.9 1234.4 1318.4 C1239.1 1316.9 1243.7 1315.4 1248.3 1314.0 C1252.9 1312.6 1257.6 1311.2 1262.2 1309.9 C1266.8 1308.5 1271.4 1307.2 1276.1 1305.9 C1280.7 1304.7 1285.3 1303.4 1289.9 1302.2 C1294.6 1301.0 1299.2 1299.8 1303.8 1298.6 C1308.5 1297.4 1313.1 1296.3 1317.8 1295.2 C1322.4 1294.1 1327.1 1293.0 1331.7 1291.9 C1336.3 1290.9 1341.0 1289.8 1345.7 1288.8 C1350.3 1287.8 1355.0 1286.8 1359.6 1285.9 C1364.3 1284.9 1369.0 1284.0 1373.6 1283.0 C1378.3 1282.1 1383.0 1281.2 1387.7 1280.3 C1392.3 1279.5 1397.0 1278.6 1401.7 1277.8 C1406.4 1276.9 1411.1 1276.1 1415.8 1275.3 C1420.5 1274.5 1425.2 1273.7 1429.9 1272.9 C1434.6 1272.2 1439.3 1271.4 1444.0 1270.7 C1448.7 1270.0 1453.4 1269.2 1458.1 1268.5 C1462.8 1267.9 1467.5 1267.2 1472.3 1266.5 C1477.0 1265.8 1481.7 1265.2 1486.4 1264.6 C1491.2 1263.9 1495.9 1263.3 1500.6 1262.7 C1505.3 1262.1 1510.1 1261.5 1514.8 1260.9 C1519.6 1260.4 1524.3 1259.8 1529.0 1259.3 C1533.8 1258.7 1538.5 1258.2 1543.3 1257.7 C1548.0 1257.1 1552.8 1256.6 1557.5 1256.1 C1562.3 1255.6 1567.0 1255.1 1571.8 1254.7 C1576.6 1254.2 1581.3 1253.7 1586.1 1253.3 C1590.8 1252.8 1595.6 1252.4 1600.4 1251.9 C1605.1 1251.5 1609.9 1251.1 1614.7 1250.7 C1619.5 1250.3 1624.2 1249.8 1629.0 1249.5 C1633.8 1249.1 1638.6 1248.7 1643.3 1248.3 C1648.1 1247.9 1652.9 1247.5 1657.7 1247.2 C1662.5 1246.8 1667.2 1246.4 1672.0 1246.1 C1676.8 1245.7 1681.6 1245.4 1686.4 1245.0 C1691.2 1244.7 1696.0 1244.3 1700.8 1244.0 C1705.6 1243.7 1710.3 1243.3 1715.1 1243.0 C1719.9 1242.7 1724.7 1242.4 1729.5 1242.1 C1734.3 1241.7 1739.1 1241.4 1743.9 1241.1 C1748.7 1240.8 1753.5 1240.5 1758.3 1240.2 C1763.1 1239.9 1767.9 1239.6 1772.7 1239.3 C1777.5 1239.0 1782.3 1238.7 1787.1 1238.4 C1791.9 1238.1 1796.7 1237.8 1801.5 1237.5 C1806.3 1237.2 1811.1 1236.9 1815.9 1236.6 C1820.7 1236.3 1825.5 1236.1 1830.4 1235.8 C1835.2 1235.5 1840.0 1235.2 1844.8 1234.9 C1849.6 1234.7 1854.4 1234.4 1859.2 1234.1 C1864.0 1233.8 1868.8 1233.6 1873.6 1233.3 C1878.4 1233.0 1883.2 1232.8 1888.0 1232.5 C1892.8 1232.2 1897.6 1232.0 1902.4 1231.7 C1907.2 1231.5 1912.0 1231.2 1916.8 1231.0 C1921.7 1230.7 1926.5 1230.5 1931.3 1230.2 C1936.1 1230.0 1940.9 1229.7 1945.7 1229.5 C1950.5 1229.2 1955.3 1229.0 1960.1 1228.8 C1964.9 1228.5 1969.7 1228.3 1974.5 1228.1 C1979.3 1227.9 1984.1 1227.6 1988.9 1227.4 C1993.7 1227.2 1998.5 1227.0 2003.3 1226.7 C2008.0 1226.5 2012.8 1226.3 2017.6 1226.1 C2022.4 1225.9 2027.2 1225.7 2032.0 1225.5 C2036.8 1225.3 2041.6 1225.1 2046.4 1224.9 C2051.2 1224.7 2055.9 1224.5 2060.7 1224.3 C2065.5 1224.1 2070.3 1223.9 2075.1 1223.7 C2079.9 1223.5 2084.6 1223.3 2089.4 1223.2 C2094.2 1223.0 2099.0 1222.8 2103.7 1222.6 C2108.5 1222.5 2113.3 1222.3 2118.1 1222.1 C2122.8 1222.0 2127.6 1221.8 2132.4 1221.6 C2137.1 1221.5 2141.9 1221.3 2146.6 1221.2 C2151.4 1221.0 2156.2 1220.8 2160.9 1220.7 C2165.7 1220.5 2170.4 1220.4 2175.2 1220.3 C2179.9 1220.1 2184.7 1220.0 2189.4 1219.9 C2194.2 1219.7 2198.9 1219.6 2203.7 1219.5 C2208.4 1219.3 2213.1 1219.2 2217.9 1219.1 C2222.6 1219.0 2227.4 1218.8 2232.1 1218.7 C2236.8 1218.6 2243.9 1218.5 2246.3 1218.4" stroke="#000000" stroke-width="12"/>
<path d="M848.5 10.3 C848.7 12.7 849.1 19.8 849.3 24.6 C849.6 29.4 849.9 34.2 850.1 38.9 C850.4 43.7 850.7 48.5 851.0 53.3 C851.2 58.0 851.5 62.8 851.8 67.6 C852.1 72.4 852.3 77.2 852.6 81.9 C852.9 86.7 853.2 91.5 853.5 96.3 C853.7 101.1 854.0 105.8 854.3 110.6 C854.6 115.4 854.9 120.2 855.2 125.0 C855.4 129.8 855.7 134.5 856.0 139.3 C856.3 144.1 856.6 148.9 856.9 153.7 C857.2 158.5 857.5 163.3 857.8 168.0 C858.1 172.8 858.4 177.6 858.6 182.4 C858.9 187.2 859.2 192.0 859.5 196.8 C859.8 201.5 860.1 206.3 860.4 211.1 C860.7 215.9 861.1 220.7 861.4 225.5 C861.7 230.3 862.0 235.1 862.3 239.9 C862.6 244.6 862.9 249.4 863.2 254.2 C863.5 259.0 863.8 263.8 864.2 268.6 C864.5 273.4 864.8 278.2 865.1 283.0 C865.4 287.8 865.7 292.5 866.1 297.3 C866.4 302.1 866.7 306.9 867.0 311.7 C867.4 316.5 867.7 321.3 868.0 326.1 C868.3 330.9 868.7 335.7 869.0 340.5 C869.3 345.3 869.7 350.1 870.0 354.8 C870.3 359.6 870.7 364.4 871.0 369.2 C871.3 374.0 871.7 378.8 872.0 383.6 C872.4 388.4 872.7 393.2 873.1 398.0 C873.4 402.8 873.8 407.6 874.1 412.4 C874.5 417.1 874.8 421.9 875.2 426.7 C875.5 431.5 875.9 436.3 876.2 441.1 C876.6 445.9 876.9 450.7 877.3 455.5 C877.7 460.3 878.0 465.1 878.4 469.9 C878.8 474.7 879.1 479.4 879.5 484.2 C879.9 489.0 880.2 493.8 880.6 498.6 C881.0 503.4 881.4 508.2 881.7 513.0 C882.1 517.8 882.5 522.6 882.9 527.4 C883.3 532.1 883.6 536.9 884.0 541.7 C884.4 546.5 884.8 551.3 885.2 556.1 C885.6 560.9 886.0 565.7 886.4 570.5 C886.8 575.3 887.2 580.0 887.6 584.8 C888.0 589.6 888.4 594.4 888.8 599.2 C889.2 604.0 889.6 608.8 890.0 613.6 C890.4 618.3 890.8 623.1 891.2 627.9 C891.6 632.7 892.1 637.5 892.5 642.3 C892.9 647.1 893.3 651.8 893.7 656.6 C894.2 661.4 894.6 666.2 895.0 671.0 C895.4 675.8 895.9 680.5 896.3 685.3 C896.7 690.1 897.2 694.9 897.6 699.7 C898.0 704.4 898.5 709.2 898.9 714.0 C899.4 718.8 899.8 723.6 900.3 728.3 C900.7 733.1 901.2 737.9 901.6 742.7 C902.1 747.5 902.5 752.2 903.0 757.0 C903.4 761.8 903.9 766.6 904.4 771.3 C904.8 776.1 905.3 780.9 905.8 785.7 C906.2 790.4 906.7 795.2 907.2 800.0 C907.7 804.8 908.1 809.5 908.6 814.3 C909.1 819.1 909.6 823.8 910.1 828.6 C910.5 833.4 911.0 838.1 911.5 842.9 C912.0 847.7 912.5 852.4 913.0 857.2 C913.5 862.0 914.0 866.7 914.5 871.5 C915.0 876.3 915.5 881.0 916.0 885.8 C916.6 890.6 917.1 895.3 917.6 900.1 C918.1 904.8 918.7 909.6 919.2 914.4 C919.7 919.1 920.3 923.9 920.8 928.6 C921.4 933.4 921.9 938.1 922.5 942.9 C923.1 947.7 923.7 952.4 924.2 957.2 C924.8 961.9 925.4 966.7 926.0 971.4 C926.6 976.2 927.2 980.9 927.9 985.7 C928.5 990.4 929.1 995.2 929.8 999.9 C930.4 1004.7 931.1 1009.4 931.7 1014.2 C932.4 1018.9 933.1 1023.6 933.8 1028.4 C934.5 1033.1 935.2 1037.9 935.9 1042.6 C936.6 1047.3 937.4 1052.1 938.1 1056.8 C938.9 1061.6 939.6 1066.3 940.4 1071.0 C941.2 1075.8 942.0 1080.5 942.8 1085.2 C943.6 1090.0 944.4 1094.7 945.2 1099.4 C946.1 1104.2 946.9 1108.9 947.8 1113.6 C948.6 1118.3 949.5 1123.1 950.4 1127.8 C951.3 1132.5 952.2 1137.2 953.1 1142.0 C954.0 1146.7 954.9 1151.4 955.9 1156.1 C956.8 1160.9 957.7 1165.6 958.7 1170.3 C959.6 1175.0 960.6 1179.7 961.6 1184.4 C962.5 1189.1 963.5 1193.9 964.5 1198.6 C965.5 1203.3 966.5 1208.0 967.5 1212.7 C968.5 1217.4 969.5 1222.1 970.5 1226.8 C971.5 1231.5 972.5 1236.2 973.6 1240.9 C974.6 1245.6 975.6 1250.3 976.7 1255.0 C977.7 1259.7 978.7 1264.4 979.8 1269.1 C980.8 1273.8 981.8 1278.5 982.9 1283.2 C983.9 1287.9 985.0 1292.6 986.1 1297.3 C987.1 1302.0 988.2 1306.6 989.3 1311.3 C990.4 1316.0 991.5 1320.6 992.7 1325.3 C993.9 1329.9 995.1 1334.6 996.3 1339.2 C997.6 1343.8 998.9 1348.4 1000.2 1352.9 C1001.6 1357.5 1003.0 1362.1 1004.4 1366.6 C1005.9 1371.1 1007.4 1375.6 1009.1 1380.1 C1010.7 1384.5 1012.4 1389.0 1014.1 1393.4 C1015.9 1397.8 1017.8 1402.1 1019.7 1406.5 C1021.7 1410.8 1023.8 1415.1 1025.9 1419.3 C1028.1 1423.6 1030.4 1427.8 1032.8 1431.9 C1035.2 1436.1 1037.7 1440.2 1040.3 1444.3 C1043.0 1448.3 1045.7 1452.3 1048.7 1456.3 C1051.6 1460.2 1054.6 1464.1 1057.8 1467.9 C1061.0 1471.7 1064.3 1475.4 1067.7 1479.0 C1071.1 1482.5 1074.7 1486.0 1078.3 1489.3 C1082.0 1492.5 1085.8 1495.7 1089.7 1498.5 C1093.6 1501.4 1097.6 1504.1 1101.8 1506.5 C1105.9 1508.8 1110.2 1510.8 1114.5 1512.5 C1118.8 1514.1 1123.3 1515.4 1127.8 1516.3 C1132.3 1517.3 1136.9 1517.8 1141.5 1518.2 C1146.1 1518.5 1150.8 1518.5 1155.5 1518.3 C1160.2 1518.1 1164.9 1517.6 1169.6 1517.0 C1174.3 1516.3 1179.0 1515.5 1183.7 1514.5 C1188.3 1513.5 1192.9 1512.3 1197.5 1511.0 C1202.1 1509.8 1206.6 1508.3 1211.1 1506.8 C1215.6 1505.3 1220.1 1503.6 1224.6 1501.9 C1229.0 1500.1 1233.5 1498.3 1237.9 1496.4 C1242.3 1494.4 1246.7 1492.4 1251.1 1490.4 C1255.5 1488.3 1259.8 1486.2 1264.2 1484.1 C1268.5 1481.9 1272.9 1479.7 1277.2 1477.5 C1281.6 1475.3 1285.9 1473.1 1290.2 1470.8 C1294.6 1468.6 1298.9 1466.3 1303.3 1464.1 C1307.6 1461.9 1311.9 1459.7 1316.3 1457.5 C1320.7 1455.4 1325.0 1453.3 1329.4 1451.2 C1333.8 1449.1 1338.2 1447.0 1342.6 1445.0 C1347.0 1443.0 1351.4 1441.1 1355.8 1439.1 C1360.3 1437.2 1364.7 1435.3 1369.1 1433.5 C1373.6 1431.6 1378.0 1429.8 1382.5 1428.0 C1387.0 1426.2 1391.4 1424.5 1395.9 1422.8 C1400.4 1421.1 1404.9 1419.4 1409.4 1417.8 C1413.9 1416.1 1418.4 1414.5 1422.9 1412.9 C1427.5 1411.4 1432.0 1409.8 1436.5 1408.3 C1441.1 1406.8 1445.6 1405.3 1450.2 1403.9 C1454.7 1402.4 1459.3 1401.0 1463.9 1399.6 C1468.4 1398.2 1473.0 1396.9 1477.6 1395.5 C1482.2 1394.2 1486.8 1392.9 1491.4 1391.6 C1496.0 1390.4 1500.6 1389.1 1505.2 1387.9 C1509.8 1386.6 1514.4 1385.4 1519.1 1384.3 C1523.7 1383.1 1528.3 1381.9 1533.0 1380.8 C1537.6 1379.7 1542.3 1378.6 1546.9 1377.5 C1551.6 1376.4 1556.2 1375.3 1560.9 1374.3 C1565.6 1373.3 1570.2 1372.2 1574.9 1371.2 C1579.6 1370.2 1584.3 1369.3 1588.9 1368.3 C1593.6 1367.3 1598.3 1366.4 1603.0 1365.4 C1607.7 1364.5 1612.4 1363.6 1617.1 1362.7 C1621.8 1361.8 1626.5 1360.9 1631.2 1360.1 C1635.9 1359.2 1640.6 1358.4 1645.4 1357.5 C1650.1 1356.7 1654.8 1355.9 1659.5 1355.1 C1664.3 1354.2 1669.0 1353.5 1673.7 1352.7 C1678.4 1351.9 1683.2 1351.1 1687.9 1350.3 C1692.6 1349.6 1697.4 1348.8 1702.1 1348.1 C1706.9 1347.3 1711.6 1346.6 1716.3 1345.9 C1721.1 1345.2 1725.8 1344.4 1730.6 1343.7 C1735.3 1343.0 1740.1 1342.3 1744.8 1341.7 C1749.6 1341.0 1754.4 1340.3 1759.1 1339.6 C1763.9 1339.0 1768.6 1338.3 1773.4 1337.7 C1778.2 1337.0 1782.9 1336.4 1787.7 1335.8 C1792.4 1335.2 1797.2 1334.5 1802.0 1333.9 C1806.7 1333.3 1811.5 1332.7 1816.3 1332.1 C1821.1 1331.6 1825.8 1331.0 1830.6 1330.4 C1835.4 1329.8 1840.2 1329.3 1844.9 1328.7 C1849.7 1328.2 1854.5 1327.6 1859.3 1327.1 C1864.1 1326.5 1868.8 1326.0 1873.6 1325.5 C1878.4 1325.0 1883.2 1324.4 1888.0 1323.9 C1892.7 1323.4 1897.5 1322.9 1902.3 1322.4 C1907.1 1321.9 1911.9 1321.5 1916.7 1321.0 C1921.5 1320.5 1926.2 1320.0 1931.0 1319.6 C1935.8 1319.1 1940.6 1318.7 1945.4 1318.2 C1950.2 1317.8 1955.0 1317.3 1959.8 1316.9 C1964.6 1316.5 1969.4 1316.0 1974.1 1315.6 C1978.9 1315.2 1983.7 1314.8 1988.5 1314.4 C1993.3 1314.0 1998.1 1313.6 2002.9 1313.2 C2007.7 1312.8 2012.5 1312.4 2017.3 1312.0 C2022.1 1311.6 2026.8 1311.2 2031.6 1310.9 C2036.4 1310.5 2041.2 1310.1 2046.0 1309.8 C2050.8 1309.4 2055.6 1309.0 2060.4 1308.7 C2065.2 1308.3 2070.0 1308.0 2074.7 1307.7 C2079.5 1307.3 2084.3 1307.0 2089.1 1306.6 C2093.9 1306.3 2098.7 1306.0 2103.5 1305.7 C2108.3 1305.4 2113.0 1305.0 2117.8 1304.7 C2122.6 1304.4 2127.4 1304.1 2132.2 1303.8 C2137.0 1303.5 2141.7 1303.2 2146.5 1302.9 C2151.3 1302.6 2156.1 1302.3 2160.9 1302.0 C2165.6 1301.7 2170.4 1301.5 2175.2 1301.2 C2180.0 1300.9 2184.7 1300.6 2189.5 1300.3 C2194.3 1300.1 2199.1 1299.8 2203.8 1299.5 C2208.6 1299.3 2213.4 1299.0 2218.1 1298.7 C2222.9 1298.5 2227.7 1298.2 2232.4 1298.0 C2237.2 1297.7 2244.3 1297.3 2246.7 1297.2" stroke="#bfa050" stroke-width="13.3"/>
<path d="M848.5 10.3 C848.7 12.7 849.1 19.8 849.3 24.6 C849.6 29.4 849.9 34.2 850.1 38.9 C850.4 43.7 850.7 48.5 851.0 53.3 C851.2 58.0 851.5 62.8 851.8 67.6 C852.1 72.4 852.3 77.2 852.6 81.9 C852.9 86.7 853.2 91.5 853.5 96.3 C853.7 101.1 854.0 105.8 854.3 110.6 C854.6 115.4 854.9 120.2 855.2 125.0 C855.4 129.8 855.7 134.5 856.0 139.3 C856.3 144.1 856.6 148.9 856.9 153.7 C857.2 158.5 857.5 163.3 857.8 168.0 C858.1 172.8 858.4 177.6 858.6 182.4 C858.9 187.2 859.2 192.0 859.5 196.8 C859.8 201.5 860.1 206.3 860.4 211.1 C860.7 215.9 861.1 220.7 861.4 225.5 C861.7 230.3 862.0 235.1 862.3 239.9 C862.6 244.6 862.9 249.4 863.2 254.2 C863.5 259.0 863.8 263.8 864.2 268.6 C864.5 273.4 864.8 278.2 865.1 283.0 C865.4 287.8 865.7 292.5 866.1 297.3 C866.4 302.1 866.7 306.9 867.0 311.7 C867.4 316.5 867.7 321.3 868.0 326.1 C868.3 330.9 868.7 335.7 869.0 340.5 C869.3 345.3 869.7 350.1 870.0 354.8 C870.3 359.6 870.7 364.4 871.0 369.2 C871.3 374.0 871.7 378.8 872.0 383.6 C872.4 388.4 872.7 393.2 873.1 398.0 C873.4 402.8 873.8 407.6 874.1 412.4 C874.5 417.1 874.8 421.9 875.2 426.7 C875.5 431.5 875.9 436.3 876.2 441.1 C876.6 445.9 876.9 450.7 877.3 455.5 C877.7 460.3 878.0 465.1 878.4 469.9 C878.8 474.7 879.1 479.4 879.5 484.2 C879.9 489.0 880.2 493.8 880.6 498.6 C881.0 503.4 881.4 508.2 881.7 513.0 C882.1 517.8 882.5 522.6 882.9 527.4 C883.3 532.1 883.6 536.9 884.0 541.7 C884.4 546.5 884.8 551.3 885.2 556.1 C885.6 560.9 886.0 565.7 886.4 570.5 C886.8 575.3 887.2 580.0 887.6 584.8 C888.0 589.6 888.4 594.4 888.8 599.2 C889.2 604.0 889.6 608.8 890.0 613.6 C890.4 618.3 890.8 623.1 891.2 627.9 C891.6 632.7 892.1 637.5 892.5 642.3 C892.9 647.1 893.3 651.8 893.7 656.6 C894.2 661.4 894.6 666.2 895.0 671.0 C895.4 675.8 895.9 680.5 896.3 685.3 C896.7 690.1 897.2 694.9 897.6 699.7 C898.0 704.4 898.5 709.2 898.9 714.0 C899.4 718.8 899.8 723.6 900.3 728.3 C900.7 733.1 901.2 737.9 901.6 742.7 C902.1 747.5 902.5 752.2 903.0 757.0 C903.4 761.8 903.9 766.6 904.4 771.3 C904.8 776.1 905.3 780.9 905.8 785.7 C906.2 790.4 906.7 795.2 907.2 800.0 C907.7 804.8 908.1 809.5 908.6 814.3 C909.1 819.1 909.6 823.8 910.1 828.6 C910.5 833.4 911.0 838.1 911.5 842.9 C912.0 847.7 912.5 852.4 913.0 857.2 C913.5 862.0 914.0 866.7 914.5 871.5 C915.0 876.3 915.5 881.0 916.0 885.8 C916.6 890.6 917.1 895.3 917.6 900.1 C918.1 904.8 918.7 909.6 919.2 914.4 C919.7 919.1 920.3 923.9 920.8 928.6 C921.4 933.4 921.9 938.1 922.5 942.9 C923.1 947.7 923.7 952.4 924.2 957.2 C924.8 961.9 925.4 966.7 926.0 971.4 C926.6 976.2 927.2 980.9 927.9 985.7 C928.5 990.4 929.1 995.2 929.8 999.9 C930.4 1004.7 931.1 1009.4 931.7 1014.2 C932.4 1018.9 933.1 1023.6 933.8 1028.4 C934.5 1033.1 935.2 1037.9 935.9 1042.6 C936.6 1047.3 937.4 1052.1 938.1 1056.8 C938.9 1061.6 939.6 1066.3 940.4 1071.0 C941.2 1075.8 942.0 1080.5 942.8 1085.2 C943.6 1090.0 944.4 1094.7 945.2 1099.4 C946.1 1104.2 946.9 1108.9 947.8 1113.6 C948.6 1118.3 949.5 1123.1 950.4 1127.8 C951.3 1132.5 952.2 1137.2 953.1 1142.0 C954.0 1146.7 954.9 1151.4 955.9 1156.1 C956.8 1160.9 957.7 1165.6 958.7 1170.3 C959.6 1175.0 960.6 1179.7 961.6 1184.4 C962.5 1189.1 963.5 1193.9 964.5 1198.6 C965.5 1203.3 966.5 1208.0 967.5 1212.7 C968.5 1217.4 969.5 1222.1 970.5 1226.8 C971.5 1231.5 972.5 1236.2 973.6 1240.9 C974.6 1245.6 975.6 1250.3 976.7 1255.0 C977.7 1259.7 978.7 1264.4 979.8 1269.1 C980.8 1273.8 981.8 1278.5 982.9 1283.2 C983.9 1287.9 985.0 1292.6 986.1 1297.3 C987.1 1302.0 988.2 1306.6 989.3 1311.3 C990.4 1316.0 991.5 1320.6 992.7 1325.3 C993.9 1329.9 995.1 1334.6 996.3 1339.2 C997.6 1343.8 998.9 1348.4 1000.2 1352.9 C1001.6 1357.5 1003.0 1362.1 1004.4 1366.6 C1005.9 1371.1 1007.4 1375.6 1009.1 1380.1 C1010.7 1384.5 1012.4 1389.0 1014.1 1393.4 C1015.9 1397.8 1017.8 1402.1 1019.7 1406.5 C1021.7 1410.8 1023.8 1415.1 1025.9 1419.3 C1028.1 1423.6 1030.4 1427.8 1032.8 1431.9 C1035.2 1436.1 1037.7 1440.2 1040.3 1444.3 C1043.0 1448.3 1045.7 1452.3 1048.7 1456.3 C1051.6 1460.2 1054.6 1464.1 1057.8 1467.9 C1061.0 1471.7 1064.3 1475.4 1067.7 1479.0 C1071.1 1482.5 1074.7 1486.0 1078.3 1489.3 C1082.0 1492.5 1085.8 1495.7 1089.7 1498.5 C1093.6 1501.4 1097.6 1504.1 1101.8 1506.5 C1105.9 1508.8 1110.2 1510.8 1114.5 1512.5 C1118.8 1514.1 1123.3 1515.4 1127.8 1516.3 C1132.3 1517.3 1136.9 1517.8 1141.5 1518.2 C1146.1 1518.5 1150.8 1518.5 1155.5 1518.3 C1160.2 1518.1 1164.9 1517.6 1169.6 1517.0 C1174.3 1516.3 1179.0 1515.5 1183.7 1514.5 C1188.3 1513.5 1192.9 1512.3 1197.5 1511.0 C1202.1 1509.8 1206.6 1508.3 1211.1 1506.8 C1215.6 1505.3 1220.1 1503.6 1224.6 1501.9 C1229.0 1500.1 1233.5 1498.3 1237.9 1496.4 C1242.3 1494.4 1246.7 1492.4 1251.1 1490.4 C1255.5 1488.3 1259.8 1486.2 1264.2 1484.1 C1268.5 1481.9 1272.9 1479.7 1277.2 1477.5 C1281.6 1475.3 1285.9 1473.1 1290.2 1470.8 C1294.6 1468.6 1298.9 1466.3 1303.3 1464.1 C1307.6 1461.9 1311.9 1459.7 1316.3 1457.5 C1320.7 1455.4 1325.0 1453.3 1329.4 1451.2 C1333.8 1449.1 1338.2 1447.0 1342.6 1445.0 C1347.0 1443.0 1351.4 1441.1 1355.8 1439.1 C1360.3 1437.2 1364.7 1435.3 1369.1 1433.5 C1373.6 1431.6 1378.0 1429.8 1382.5 1428.0 C1387.0 1426.2 1391.4 1424.5 1395.9 1422.8 C1400.4 1421.1 1404.9 1419.4 1409.4 1417.8 C1413.9 1416.1 1418.4 1414.5 1422.9 1412.9 C1427.5 1411.4 1432.0 1409.8 1436.5 1408.3 C1441.1 1406.8 1445.6 1405.3 1450.2 1403.9 C1454.7 1402.4 1459.3 1401.0 1463.9 1399.6 C1468.4 1398.2 1473.0 1396.9 1477.6 1395.5 C1482.2 1394.2 1486.8 1392.9 1491.4 1391.6 C1496.0 1390.4 1500.6 1389.1 1505.2 1387.9 C1509.8 1386.6 1514.4 1385.4 1519.1 1384.3 C1523.7 1383.1 1528.3 1381.9 1533.0 1380.8 C1537.6 1379.7 1542.3 1378.6 1546.9 1377.5 C1551.6 1376.4 1556.2 1375.3 1560.9 1374.3 C1565.6 1373.3 1570.2 1372.2 1574.9 1371.2 C1579.6 1370.2 1584.3 1369.3 1588.9 1368.3 C1593.6 1367.3 1598.3 1366.4 1603.0 1365.4 C1607.7 1364.5 1612.4 1363.6 1617.1 1362.7 C1621.8 1361.8 1626.5 1360.9 1631.2 1360.1 C1635.9 1359.2 1640.6 1358.4 1645.4 1357.5 C1650.1 1356.7 1654.8 1355.9 1659.5 1355.1 C1664.3 1354.2 1669.0 1353.5 1673.7 1352.7 C1678.4 1351.9 1683.2 1351.1 1687.9 1350.3 C1692.6 1349.6 1697.4 1348.8 1702.1 1348.1 C1706.9 1347.3 1711.6 1346.6 1716.3 1345.9 C1721.1 1345.2 1725.8 1344.4 1730.6 1343.7 C1735.3 1343.0 1740.1 1342.3 1744.8 1341.7 C1749.6 1341.0 1754.4 1340.3 1759.1 1339.6 C1763.9 1339.0 1768.6 1338.3 1773.4 1337.7 C1778.2 1337.0 1782.9 1336.4 1787.7 1335.8 C1792.4 1335.2 1797.2 1334.5 1802.0 1333.9 C1806.7 1333.3 1811.5 1332.7 1816.3 1332.1 C1821.1 1331.6 1825.8 1331.0 1830.6 1330.4 C1835.4 1329.8 1840.2 1329.3 1844.9 1328.7 C1849.7 1328.2 1854.5 1327.6 1859.3 1327.1 C1864.1 1326.5 1868.8 1326.0 1873.6 1325.5 C1878.4 1325.0 1883.2 1324.4 1888.0 1323.9 C1892.7 1323.4 1897.5 1322.9 1902.3 1322.4 C1907.1 1321.9 1911.9 1321.5 1916.7 1321.0 C1921.5 1320.5 1926.2 1320.0 1931.0 1319.6 C1935.8 1319.1 1940.6 1318.7 1945.4 1318.2 C1950.2 1317.8 1955.0 1317.3 1959.8 1316.9 C1964.6 1316.5 1969.4 1316.0 1974.1 1315.6 C1978.9 1315.2 1983.7 1314.8 1988.5 1314.4 C1993.3 1314.0 1998.1 1313.6 2002.9 1313.2 C2007.7 1312.8 2012.5 1312.4 2017.3 1312.0 C2022.1 1311.6 2026.8 1311.2 2031.6 1310.9 C2036.4 1310.5 2041.2 1310.1 2046.0 1309.8 C2050.8 1309.4 2055.6 1309.0 2060.4 1308.7 C2065.2 1308.3 2070.0 1308.0 2074.7 1307.7 C2079.5 1307.3 2084.3 1307.0 2089.1 1306.6 C2093.9 1306.3 2098.7 1306.0 2103.5 1305.7 C2108.3 1305.4 2113.0 1305.0 2117.8 1304.7 C2122.6 1304.4 2127.4 1304.1 2132.2 1303.8 C2137.0 1303.5 2141.7 1303.2 2146.5 1302.9 C2151.3 1302.6 2156.1 1302.3 2160.9 1302.0 C2165.6 1301.7 2170.4 1301.5 2175.2 1301.2 C2180.0 1300.9 2184.7 1300.6 2189.5 1300.3 C2194.3 1300.1 2199.1 1299.8 2203.8 1299.5 C2208.6 1299.3 2213.4 1299.0 2218.1 1298.7 C2222.9 1298.5 2227.7 1298.2 2232.4 1298.0 C2237.2 1297.7 2244.3 1297.3 2246.7 1297.2" stroke="#ffc000" stroke-width="11.4"/>
</g>
<line x1="442.7" y1="498.9" x2="533.5" y2="377" stroke="#4646c8" stroke-width="1.9"/>
<line x1="502.7" y1="811.2" x2="653" y2="658" stroke="#b05a64" stroke-width="2.0"/>
<line x1="784" y1="450.5" x2="974.2" y2="334.2" stroke="#2a2a2a" stroke-width="1.6"/>
<line x1="841.8" y1="595.8" x2="1021.8" y2="484.9" stroke="#52bc52" stroke-width="2.1"/>
<line x1="923.8" y1="899.8" x2="1106.5" y2="786.9" stroke="#c8a850" stroke-width="2.3"/>
<text class="tick" x="219.5" y="77.5" text-anchor="end">40</text>
<text class="tick" x="219.5" y="341.8" text-anchor="end">30</text>
<text class="tick" x="219.5" y="606.2" text-anchor="end">20</text>
<text class="tick" x="219.5" y="870.5" text-anchor="end">10</text>
<text class="tick" x="219.5" y="1134.8" text-anchor="end">0</text>
<text class="tick" x="219.5" y="1399.1" text-anchor="end">-10</text>
<text class="tick" x="219.5" y="1663.5" text-anchor="end">-20</text>
<text class="tick" x="288.0" y="1757" text-anchor="middle">3</text>
<text class="tick" x="677.4" y="1757" text-anchor="middle">5</text>
<text class="tick" x="1066.8" y="1757" text-anchor="middle">7</text>
<text class="tick" x="1456.2" y="1757" text-anchor="middle">9</text>
<text class="tick" x="1845.6" y="1757" text-anchor="middle">11</text>
<text class="tick" x="2235.0" y="1757" text-anchor="middle">13</text>
<text class="title" x="1263" y="1865" text-anchor="middle">Pore size (Å)</text>
<text class="title" transform="translate(80 842) rotate(-90)" text-anchor="middle">Minimum potential (kJ·mol<tspan font-size="49" dy="-26">-1</tspan><tspan dy="26">)</tspan></text>
<text class="lab" transform="translate(330.5 562.6) scale(1 1.04)">He</text>
<text class="lab" transform="translate(411.4 863.0) scale(1 1.04)">H<tspan class="sub" dx="-3" dy="22">2</tspan></text>
<text class="lab" transform="translate(967 326.2) scale(1 1.04)">Ar</text>
<text class="lab" transform="translate(1029.8 521.6) scale(1 1.04)">N<tspan class="sub" dx="-3" dy="22">2</tspan></text>
<text class="lab" transform="translate(1064.6 767) scale(1 1.04)">CO<tspan class="sub" dx="-3" dy="22">2</tspan></text>
</g>
</svg>
</body>
</html>
